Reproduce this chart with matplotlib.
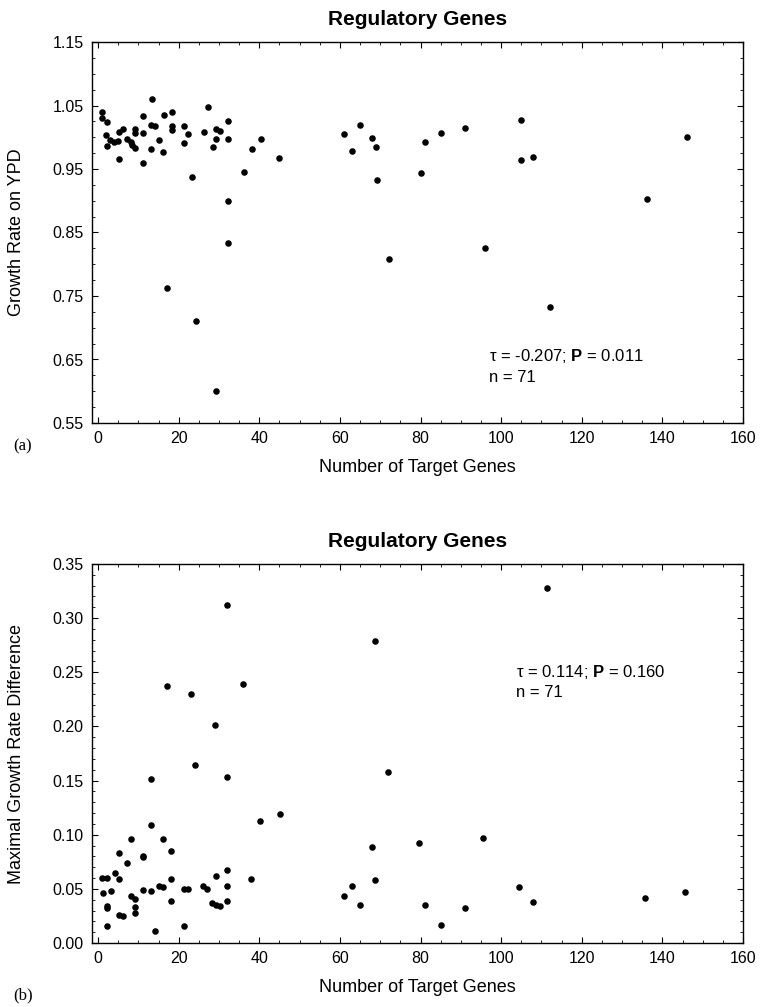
import numpy as np
import matplotlib
matplotlib.use("Agg")
import matplotlib.pyplot as plt
from matplotlib.ticker import MultipleLocator

plt.rcParams['font.family'] = ['Liberation Sans', 'DejaVu Sans']
plt.rcParams['mathtext.fontset'] = 'custom'
plt.rcParams['mathtext.rm'] = 'Liberation Sans'
plt.rcParams['mathtext.bf'] = 'Liberation Sans:bold'

# panel (a): growth rate on YPD vs number of target genes
targets_a = [1.1, 1.0, 2.2, 2.0, 3.0, 2.2, 4.0, 5.0, 5.2, 6.1, 5.2, 7.1, 8.1, 8.4,
             9.2, 9.2, 9.2, 11.1, 11.1, 11.1, 13.3, 13.2, 14.1, 13.2, 15.2, 16.4,
             16.2, 18.3, 18.3, 18.3, 21.3, 21.3, 22.3, 23.2, 26.4, 27.4, 28.4, 29.3,
             29.3, 30.3, 32.3, 32.3, 32.3, 36.2, 38.3, 40.4, 32.3, 24.2, 29.3, 69.2,
             81.1, 85.1, 91.1, 80.1, 105, 105, 108, 72.2, 96, 112.1, 136.2, 146.2,
             45, 61, 63, 65, 68, 69, 17]
growth = [1.039, 1.031, 1.024, 1.003, 0.996, 0.987, 0.992, 0.994, 1.009, 1.013,
          0.966, 0.997, 0.992, 0.988, 0.983, 1.013, 1.006, 1.034, 1.007, 0.960,
          1.061, 1.020, 1.017, 0.981, 0.995, 1.035, 0.976, 1.039, 1.018, 1.011,
          1.018, 0.991, 1.005, 0.937, 1.008, 1.048, 0.984, 0.997, 1.013, 1.010,
          1.025, 0.998, 0.900, 0.946, 0.981, 0.997, 0.833, 0.711, 0.600, 0.932,
          0.993, 1.006, 1.014, 0.944, 1.027, 0.964, 0.969, 0.809, 0.825, 0.732,
          0.902, 1.000, 0.968, 1.005, 0.978, 1.020, 0.999, 0.985, 0.763]

# panel (b): maximal growth rate difference vs number of target genes
targets_b = [17.0, 23.0, 35.9, 29.0, 24.1, 13.2, 32.1, 13.2, 8.2, 16.2, 5.2, 18.1,
             11.1, 11.1, 7.1, 4.1, 1.1, 2.2, 5.2, 18.1, 32.1, 29.2, 1.2, 3.1, 8.1,
             9.2, 11.1, 13.2, 15.2, 16.2, 21.2, 22.2, 26.1, 27.1, 32.1, 38.0, 2.2,
             2.2, 9.2, 9.2, 5.2, 6.1, 18.1, 28.2, 29.2, 30.3, 32.1, 2.2, 21.2, 14.1,
             68.7, 71.9, 40.1, 45.1, 67.9, 79.7, 68.8, 63.0, 61.0,
             111.3, 95.6, 104.5, 135.7, 145.5,
             32, 65, 81, 85, 91, 108]
max_diff = [0.237, 0.230, 0.239, 0.201, 0.164, 0.151, 0.153, 0.109, 0.096, 0.096,
            0.083, 0.085, 0.080, 0.079, 0.074, 0.065, 0.060, 0.060, 0.059, 0.059,
            0.067, 0.062, 0.046, 0.048, 0.043, 0.041, 0.049, 0.048, 0.053, 0.052,
            0.050, 0.050, 0.053, 0.050, 0.053, 0.059, 0.034, 0.032, 0.033, 0.028,
            0.026, 0.025, 0.039, 0.037, 0.035, 0.034, 0.039, 0.016, 0.016, 0.011,
            0.279, 0.158, 0.113, 0.119, 0.089, 0.092, 0.058, 0.053, 0.043,
            0.328, 0.097, 0.052, 0.042, 0.047,
            0.312, 0.035, 0.035, 0.017, 0.032, 0.038]

fig = plt.figure(figsize=(7.62, 10.07), dpi=100)
ax1 = fig.add_axes([92/762, 1 - 423/1007, 651/762, 381/1007])
ax2 = fig.add_axes([92/762, 1 - 943/1007, 651/762, 379/1007])


def style(ax):
    ax.tick_params(which='both', direction='in', top=True, right=True,
                   labelsize=11.5, pad=6)
    ax.tick_params(which='major', length=4, width=0.8)
    ax.tick_params(which='minor', length=2, width=0.6)
    for s in ax.spines.values():
        s.set_linewidth(1.0)
    ax.set_xlim(-1.5, 160)
    ax.xaxis.set_major_locator(MultipleLocator(20))
    ax.xaxis.set_minor_locator(MultipleLocator(5))
    ax.set_title("Regulatory Genes", fontsize=15, fontweight='bold', pad=12.5)
    ax.set_xlabel("Number of Target Genes", fontsize=13)
    ax.xaxis.set_label_coords(0.5, -0.095)


ax1.plot(targets_a, growth, 'o', color='black', ms=3.7)
style(ax1)
ax1.set_ylim(0.55, 1.15)
ax1.set_yticks(np.arange(0.55, 1.151, 0.1))
ax1.yaxis.set_major_formatter(plt.FormatStrFormatter('%.2f'))
ax1.yaxis.set_minor_locator(MultipleLocator(0.025))
ax1.set_ylabel("Growth Rate on YPD", fontsize=13)
ax1.yaxis.set_label_coords(-0.103, 0.5)
ax1.text(97, 0.655, r"τ = -0.207; $\mathbf{P}$ = 0.011", fontsize=12, va='center')
ax1.text(97, 0.622, "n = 71", fontsize=12, va='center')

ax2.plot(targets_b, max_diff, 'o', color='black', ms=3.7)
style(ax2)
ax2.set_ylim(0.0, 0.35)
ax2.yaxis.set_major_locator(MultipleLocator(0.05))
ax2.yaxis.set_major_formatter(plt.FormatStrFormatter('%.2f'))
ax2.yaxis.set_minor_locator(MultipleLocator(0.01))
ax2.set_ylabel("Maximal Growth Rate Difference", fontsize=13)
ax2.yaxis.set_label_coords(-0.103, 0.5)
ax2.text(103.7, 0.250, r"τ = 0.114; $\mathbf{P}$ = 0.160", fontsize=12, va='center')
ax2.text(103.7, 0.231, "n = 71", fontsize=12, va='center')

fig.text(13/762, 1 - 446/1007, "(a)", family='Liberation Serif', fontsize=12, va='center')
fig.text(13/762, 1 - 995/1007, "(b)", family='Liberation Serif', fontsize=12, va='center')

fig.savefig("out.png", dpi=100)
